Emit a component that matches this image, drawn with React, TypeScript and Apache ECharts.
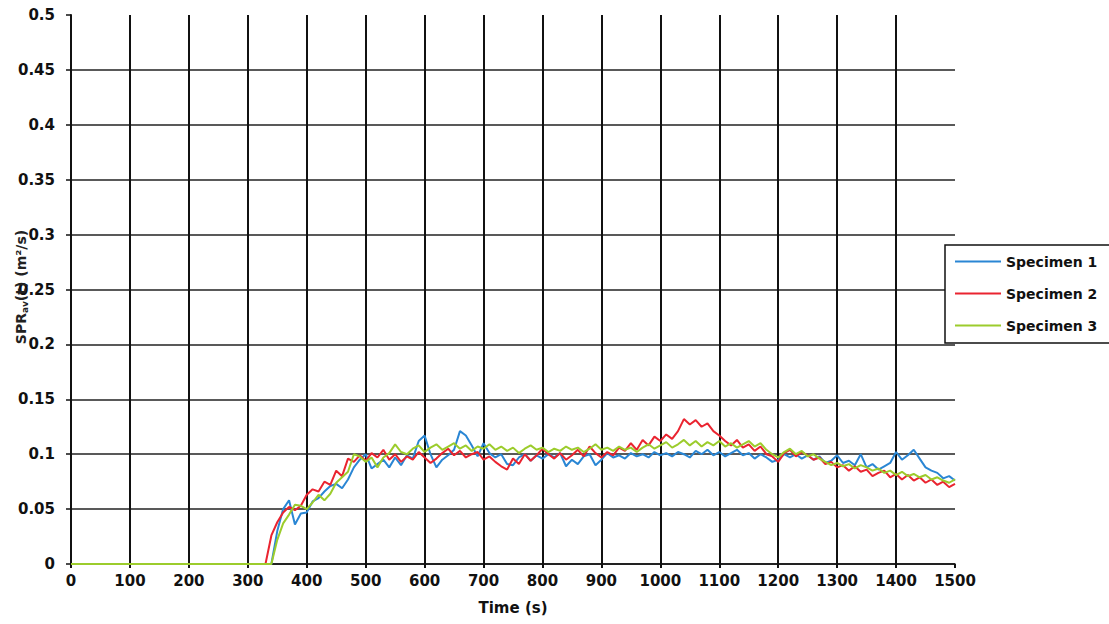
import React, { useEffect, useRef } from "react";
import * as echarts from "echarts";

const times = [
  0, 320, 330, 340, 350, 360, 370, 380, 390,
  400, 410, 420, 430, 440, 450, 460, 470, 480, 490,
  500, 510, 520, 530, 540, 550, 560, 570, 580, 590,
  600, 610, 620, 630, 640, 650, 660, 670, 680, 690,
  700, 710, 720, 730, 740, 750, 760, 770, 780, 790,
  800, 810, 820, 830, 840, 850, 860, 870, 880, 890,
  900, 910, 920, 930, 940, 950, 960, 970, 980, 990,
  1000, 1010, 1020, 1030, 1040, 1050, 1060, 1070, 1080, 1090,
  1100, 1110, 1120, 1130, 1140, 1150, 1160, 1170, 1180, 1190,
  1200, 1210, 1220, 1230, 1240, 1250, 1260, 1270, 1280, 1290,
  1300, 1310, 1320, 1330, 1340, 1350, 1360, 1370, 1380, 1390,
  1400, 1410, 1420, 1430, 1440, 1450, 1460, 1470, 1480, 1490,
  1500,
];

const specimen1 = [
  0, 0, 0, 0, 0.03, 0.05, 0.058, 0.036, 0.046,
  0.047, 0.057, 0.06, 0.066, 0.071, 0.073, 0.069, 0.077, 0.088, 0.095,
  0.1, 0.087, 0.091, 0.095, 0.088, 0.097, 0.09, 0.099, 0.096, 0.112,
  0.117, 0.1, 0.088, 0.095, 0.099, 0.104, 0.121, 0.117, 0.108, 0.098,
  0.11, 0.101, 0.097, 0.1, 0.091, 0.09, 0.097, 0.1, 0.094, 0.099,
  0.096, 0.1, 0.097, 0.101, 0.089, 0.095, 0.091, 0.098, 0.1, 0.09,
  0.095, 0.101, 0.097, 0.099, 0.096, 0.101, 0.098, 0.1, 0.097, 0.102,
  0.099, 0.101, 0.098, 0.102, 0.1, 0.097, 0.103, 0.1, 0.104, 0.099,
  0.102, 0.098, 0.101, 0.104, 0.099, 0.101, 0.096, 0.1, 0.097, 0.093,
  0.095, 0.1, 0.097, 0.1, 0.096, 0.099, 0.095, 0.098, 0.092, 0.094,
  0.099, 0.092, 0.094, 0.09, 0.1, 0.088, 0.091, 0.086, 0.089, 0.092,
  0.102, 0.095, 0.099, 0.104, 0.096, 0.088, 0.085, 0.083, 0.078, 0.08,
  0.076,
];

const specimen2 = [
  0, 0, 0, 0.026, 0.038, 0.047, 0.052, 0.049, 0.053,
  0.063, 0.068, 0.066, 0.075, 0.072, 0.085, 0.08, 0.096, 0.093, 0.099,
  0.094, 0.101, 0.097, 0.104, 0.095, 0.1, 0.093, 0.098, 0.095, 0.102,
  0.097, 0.092, 0.096, 0.101, 0.105, 0.099, 0.103, 0.097, 0.1, 0.102,
  0.095, 0.098, 0.093, 0.089, 0.086, 0.096, 0.091, 0.1, 0.094, 0.099,
  0.105, 0.1, 0.096, 0.101, 0.095, 0.099, 0.104, 0.098, 0.107, 0.101,
  0.097, 0.102, 0.099, 0.106, 0.103, 0.11, 0.104, 0.113, 0.108, 0.116,
  0.112, 0.118, 0.114, 0.121, 0.132, 0.127, 0.131, 0.125, 0.128, 0.121,
  0.117, 0.112, 0.108, 0.113, 0.106, 0.109, 0.103, 0.107, 0.1, 0.098,
  0.093, 0.101, 0.104, 0.098, 0.102, 0.099, 0.095, 0.097, 0.091, 0.093,
  0.088, 0.09, 0.085, 0.089, 0.084, 0.086, 0.08, 0.083, 0.085, 0.079,
  0.082, 0.077, 0.081, 0.076, 0.079, 0.074, 0.077, 0.072, 0.075, 0.07,
  0.073,
];

const specimen3 = [
  0, 0, 0, 0, 0.022, 0.037, 0.045, 0.054, 0.053,
  0.05, 0.056, 0.063, 0.058, 0.064, 0.074, 0.079, 0.084, 0.1, 0.098,
  0.093, 0.097, 0.088, 0.097, 0.101, 0.109, 0.102, 0.1, 0.105, 0.108,
  0.102, 0.106, 0.109, 0.104, 0.107, 0.11, 0.105, 0.108, 0.103, 0.107,
  0.105, 0.109, 0.104, 0.107, 0.103, 0.106, 0.101, 0.105, 0.108, 0.104,
  0.106, 0.102, 0.105, 0.103, 0.107, 0.104, 0.106, 0.102, 0.105, 0.109,
  0.104, 0.106, 0.103, 0.107, 0.104, 0.106, 0.102, 0.106, 0.109, 0.105,
  0.108, 0.111, 0.106, 0.109, 0.113, 0.108, 0.112, 0.107, 0.111, 0.108,
  0.112, 0.107, 0.11, 0.106, 0.109, 0.112, 0.107, 0.11, 0.104, 0.1,
  0.097, 0.102, 0.105, 0.1, 0.103, 0.098, 0.1, 0.096, 0.093, 0.09,
  0.092, 0.089, 0.091, 0.087, 0.09, 0.088, 0.085, 0.087, 0.083, 0.085,
  0.081, 0.084, 0.08, 0.082, 0.079, 0.081, 0.077, 0.079, 0.076, 0.074,
  0.077,
];

const seriesNames = ["Specimen 1", "Specimen 2", "Specimen 3"];
const seriesColors = ["#2a86d4", "#ea2430", "#9ccc2c"];
const seriesValues = [specimen1, specimen2, specimen3];

const FONT = "DejaVu Sans";

export default function App() {
  const ref = useRef<HTMLDivElement>(null);
  useEffect(() => {
    if (!ref.current) return;
    const chart = echarts.init(ref.current, undefined, { renderer: "svg" });
    chart.setOption({
      animation: false,
      backgroundColor: "#ffffff",
      grid: { left: 71, right: 154, top: 15, bottom: 60, containLabel: false, outerBoundsMode: "none" },
      graphic: [
        {
          type: "text",
          x: 21,
          y: 287,
          rotation: Math.PI / 2,
          z: 10,
          style: {
            text: "{a|SPR}{b|av}{a|(t) (m²/s)}",
            align: "center",
            verticalAlign: "middle",
            rich: {
              a: { fontFamily: FONT, fontSize: 14, fontWeight: "bold", fill: "#222" },
              b: { fontFamily: FONT, fontSize: 9, fontWeight: "bold", fill: "#222", verticalAlign: "bottom", padding: [8, 0, 0, 0] },
            },
          },
        },
      ],
      legend: {
        orient: "vertical",
        left: 945,
        top: 245,
        data: seriesNames,
        icon: "rect",
        backgroundColor: "#ffffff",
        borderColor: "#111111",
        borderWidth: 1.5,
        borderRadius: 0,
        padding: [8, 40, 9, 10],
        itemGap: 15,
        itemWidth: 46,
        itemHeight: 2,
        textStyle: { fontFamily: FONT, fontWeight: "bold", fontSize: 14, color: "#111", lineHeight: 17 },
      },
      xAxis: {
        type: "value",
        min: 0,
        max: 1500,
        interval: 100,
        name: "Time (s)",
        nameLocation: "middle",
        nameGap: 36,
        nameTextStyle: { fontFamily: FONT, fontWeight: "bold", fontSize: 15, color: "#111" },
        axisLine: { show: true, onZero: false, lineStyle: { color: "#111", width: 1.5 } },
        axisTick: { show: true, length: 4, lineStyle: { color: "#111", width: 2 } },
        axisLabel: {
          fontFamily: FONT,
          fontWeight: "bold",
          fontSize: 15,
          color: "#111",
          margin: 9,
          formatter: (v: number) => String(v),
        },
        splitLine: { show: true, showMaxLine: false, lineStyle: { color: "#111", width: 2 } },
      },
      yAxis: {
        type: "value",
        min: 0,
        max: 0.5,
        interval: 0.05,
        axisLine: { show: true, lineStyle: { color: "#111", width: 2 } },
        axisTick: { show: true, length: 5, lineStyle: { color: "#111", width: 1.5 } },
        axisLabel: {
          fontFamily: FONT,
          fontWeight: "bold",
          fontSize: 15,
          color: "#111",
          margin: 16,
          formatter: (v: number) => String(Math.round(v * 100) / 100),
        },
        splitLine: { show: true, showMaxLine: false, lineStyle: { color: "#222", width: 1.5 } },
      },
      series: seriesNames.map((name, k) => ({
        name,
        type: "line",
        symbol: "none",
        color: seriesColors[k],
        lineStyle: { width: 2, color: seriesColors[k] },
        data: times.map((t, i) => [t, seriesValues[k][i]]),
        z: 3 + k,
      })),
    });
    return () => chart.dispose();
  }, []);
  return (
    <div
      ref={ref}
      style={{ position: "fixed", left: 0, top: 0, width: 1109, height: 624, background: "#fff" }}
    />
  );
}
